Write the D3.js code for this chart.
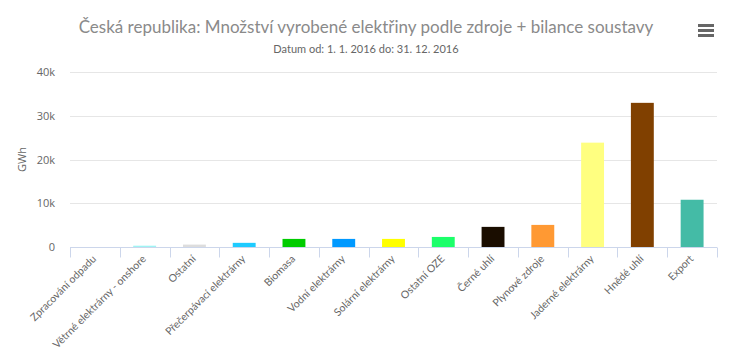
<!DOCTYPE html>
<html><head><meta charset="utf-8">
<script src="https://cdn.jsdelivr.net/npm/d3@7"></script>
<style>body{margin:0;background:#fff}svg{display:block}</style>
</head><body>
<svg id="c" width="735" height="353"></svg>
<script>
const categories = ["Zpracování odpadu","Větrné elektrárny - onshore","Ostatní","Přečerpávací elektrárny","Biomasa","Vodní elektrárny","Solární elektrárny","Ostatní OZE","Černé uhlí","Plynové zdroje","Jaderné elektrárny","Hnědé uhlí","Export"];
const values = [0, 300, 550, 950, 1850, 1850, 1850, 2300, 4600, 5050, 23850, 32950, 10800];
const colors = ["#999999","#a0f4f4","#dddddd","#1ecbff","#00cc00","#0099ff","#ffff00","#1cff6a","#1a0d00","#ff9933","#ffff80","#804000","#44bba6"];
const yTicks = [0,10000,20000,30000,40000];
const yTickLabels = ["0","10k","20k","30k","40k"];
const title = "Česká republika: Množství vyrobené elektřiny podle zdroje + bilance soustavy";
const subtitle = "Datum od: 1. 1. 2016 do: 31. 12. 2016";

const svg = d3.select("#c");
const m = {l:70, r:18, t:72, b:106};
const W = 735, H = 353;
const x = d3.scaleBand().domain(categories).range([m.l, W-m.r]).paddingInner(0.54).paddingOuter(0.27);
const xb = d3.scaleBand().domain(categories).range([m.l, W-m.r]);
const y = d3.scaleLinear().domain([0,40000]).range([H-m.b, m.t]);
const font = "'Open Sans', sans-serif";

svg.append("text").attr("x",366).attr("y",33).attr("text-anchor","middle")
  .attr("font-family","Lato, sans-serif").attr("font-size",17).attr("fill","#8a8a8a").text(title);
svg.append("text").attr("x",366).attr("y",53).attr("text-anchor","middle")
  .attr("font-family","Lato, sans-serif").attr("font-size",11).attr("fill","#666").text(subtitle);

// menu icon
[0,5,10].forEach(d=>svg.append("rect").attr("x",698).attr("y",24+d).attr("width",16).attr("height",3).attr("fill","#666"));

// grid
svg.append("g").selectAll("line").data(yTicks.slice(1)).join("line")
  .attr("x1",m.l).attr("x2",W-m.r).attr("y1",d=>Math.round(y(d))+0.5).attr("y2",d=>Math.round(y(d))+0.5)
  .attr("stroke","#e6e6e6");
svg.append("g").selectAll("text").data(yTicks).join("text")
  .attr("x",55).attr("y",d=>y(d)+4).attr("text-anchor","end")
  .attr("font-family",font).attr("font-size",11).attr("fill","#666")
  .text((d,i)=>yTickLabels[i]);
svg.append("text").attr("transform",`translate(26,${y(20000)}) rotate(-90)`).attr("text-anchor","middle")
  .attr("font-family",font).attr("font-size",11).attr("fill","#666").text("GWh");

// bars
svg.append("g").selectAll("rect").data(categories).join("rect")
  .attr("x",d=>x(d)).attr("width",x.bandwidth())
  .attr("y",(d,i)=>y(values[i])).attr("height",(d,i)=>y(0)-y(values[i]))
  .attr("fill",(d,i)=>colors[i]);

// x axis
const ax = svg.append("g").attr("transform",`translate(0,${y(0)+0.5})`);
ax.append("line").attr("x1",m.l).attr("x2",W-m.r).attr("stroke","#ccd6eb");
const bounds = categories.map(c=>xb(c)).concat([W-m.r]);
ax.selectAll("line.t").data(bounds).join("line").attr("class","t")
  .attr("x1",d=>Math.round(d)+0.5).attr("x2",d=>Math.round(d)+0.5).attr("y1",0).attr("y2",10).attr("stroke","#ccd6eb");
ax.selectAll("text").data(categories).join("text")
  .attr("transform",d=>`translate(${xb(d)+xb.bandwidth()/2+2},${12}) rotate(-45)`)
  .attr("text-anchor","end").attr("font-family","Lato, sans-serif").attr("font-size",10.5).attr("fill","#666")
  .text(d=>d);
</script>
</body></html>
